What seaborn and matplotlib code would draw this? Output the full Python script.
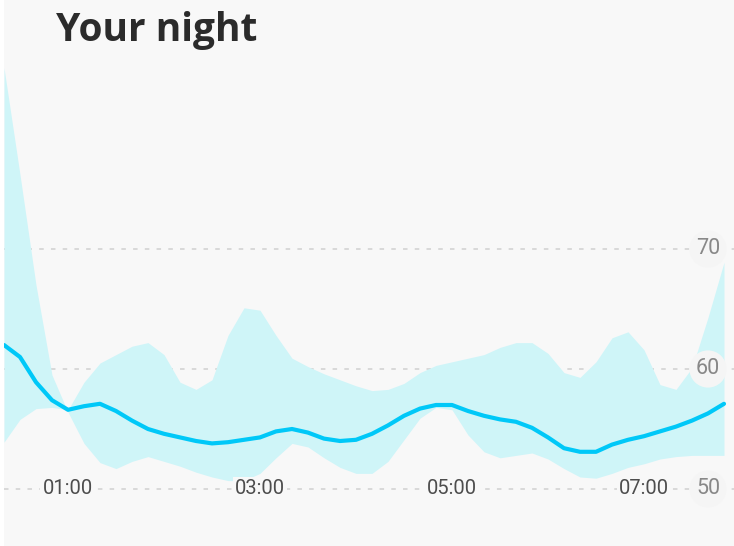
import numpy as np
import pandas as pd
import seaborn as sns
import matplotlib.pyplot as plt

# minutes after midnight, every 10 minutes from 00:20 to 07:50
minutes = list(range(20, 480, 10))

avg_rate = [62.0, 61.0, 58.9, 57.4, 56.6, 56.9, 57.1, 56.5, 55.7, 55.0,
            54.6, 54.3, 54.0, 53.8, 53.9, 54.1, 54.3, 54.8, 55.0, 54.7,
            54.2, 54.0, 54.1, 54.6, 55.3, 56.1, 56.7, 57.0, 57.0, 56.5,
            56.1, 55.8, 55.6, 55.1, 54.3, 53.4, 53.1, 53.1, 53.7, 54.1,
            54.4, 54.8, 55.2, 55.7, 56.3, 57.1]

band_a = [85.1, 76.2, 67.0, 59.5, 56.4, 53.8, 52.2, 51.7, 52.3, 52.7,
          52.3, 51.9, 51.4, 51.0, 50.7, 50.7, 51.3, 52.6, 53.8, 53.5,
          52.6, 51.8, 51.3, 51.3, 52.3, 54.1, 55.9, 56.8, 56.6, 54.5,
          53.1, 52.6, 52.8, 53.0, 52.5, 51.7, 51.0, 50.9, 51.3, 51.8,
          52.1, 52.5, 52.7, 52.8, 52.8, 52.8]

band_b = [53.9, 55.8, 56.7, 56.8, 56.6, 58.9, 60.5, 61.2, 61.9, 62.2,
          61.2, 58.9, 58.3, 59.1, 62.8, 65.1, 64.9, 62.8, 60.9, 60.2,
          59.6, 59.1, 58.6, 58.2, 58.3, 58.8, 59.7, 60.3, 60.6, 60.9,
          61.2, 61.8, 62.2, 62.2, 61.3, 59.7, 59.3, 60.6, 62.6, 63.1,
          61.6, 58.7, 58.3, 60.1, 64.3, 68.9]

hour_ticks = [60, 180, 300, 420]
hour_labels = ['01:00', '03:00', '05:00', '07:00']
rate_ticks = [50, 60, 70]

df = pd.DataFrame({'minute': minutes, 'rate': avg_rate,
                   'band_a': band_a, 'band_b': band_b})

sns.set_style('white')
plt.rcParams['font.family'] = ['Roboto', 'DejaVu Sans']

bg = '#f8f8f8'
fig = plt.figure(figsize=(7.34, 5.46), dpi=100, facecolor='white')
ax = fig.add_axes([4 / 734, 0, 730 / 734, 1])
ax.set_facecolor(bg)

for v in rate_ticks:
    ax.axhline(v, color='#d6d6d6', lw=1.3, ls=(0, (2.5, 4)), zorder=1)

ax.fill_between(df['minute'], df['band_a'], df['band_b'],
                color='#cff5f8', lw=0, zorder=2)
sns.lineplot(data=df, x='minute', y='rate', ax=ax, color='#00c8f8',
             lw=3, zorder=3)
ax.lines[-1].set_solid_joinstyle('round')

ax.set_xlim(20, 476.25)
ax.set_ylim(45.25, 90.75)

for m, lab in zip(hour_ticks, hour_labels):
    ax.text(m, 50, lab, ha='center', va='center', fontsize=14.5,
            color='#4d4d4d', zorder=4,
            bbox=dict(boxstyle='square,pad=0.12', fc=bg, ec='none'))

for v in rate_ticks:
    ax.text(460, v, str(v), ha='center', va='center', fontsize=15.5,
            color='#888888', zorder=4,
            bbox=dict(boxstyle='circle,pad=0.3', fc='#f5f5f5', ec='none'))

fig.text(56 / 734, 1 - 30 / 546, 'Your night', fontsize=28, fontweight='bold',
         color='#2b2b2b', va='center', ha='left', family=['Open Sans', 'DejaVu Sans'])

ax.set_xlabel('')
ax.set_ylabel('')
ax.set_xticks([])
ax.set_yticks([])
sns.despine(ax=ax, left=True, bottom=True)

fig.savefig('out.png', dpi=100, facecolor='white')
